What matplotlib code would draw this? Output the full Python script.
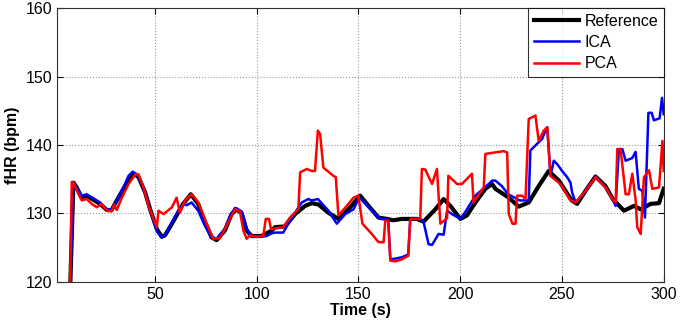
import matplotlib
matplotlib.use("Agg")
import matplotlib.pyplot as plt

plt.rcParams['font.family'] = ['Liberation Sans', 'DejaVu Sans']

# Reference fHR
ref_t = [8.3, 10.0, 11.6, 14.1, 16.5, 19.8, 23.1, 26.4, 28.8, 31.3, 34.6, 37.8, 39.8, 42.0,
         45.2, 47.7, 51.0, 53.4, 55.0, 58.4, 63.9, 67.7, 71.3, 74.6, 77.9, 80.4, 84.4, 87.7,
         90.2, 92.7, 95.1, 97.6, 102.5, 107.4, 109.1, 114.0, 118.9, 123.8, 127.1, 130.4,
         135.3, 140.2, 145.1, 150.9, 155.0, 159.9, 164.0, 167.3, 171.4, 176.3, 178.8, 182.0,
         187.8, 191.9, 195.2, 200.1, 203.3, 207.5, 212.4, 215.7, 217.3, 221.4, 223.9, 228.8,
         233.7, 238.6, 243.5, 248.5, 254.8, 257.5, 261.6, 266.5, 271.4, 275.0, 280.5, 285.4,
         288.7, 293.6, 297.7, 300.0]
ref_y = [118.0, 134.5, 133.8, 132.3, 132.6, 132.0, 131.4, 130.5, 130.5, 131.9, 133.6, 135.3,
         135.8, 135.3, 133.1, 130.6, 127.7, 126.6, 126.8, 128.5, 131.4, 132.8, 131.4, 128.7,
         126.5, 126.1, 127.5, 129.9, 130.6, 130.0, 127.5, 126.7, 126.7, 127.5, 128.0, 128.1,
         129.9, 131.1, 131.5, 131.3, 130.1, 129.2, 130.6, 132.6, 131.1, 129.4, 129.2, 129.0,
         129.2, 129.2, 129.2, 128.8, 130.6, 132.1, 131.1, 129.2, 129.7, 131.6, 133.6, 134.3,
         133.6, 132.8, 132.3, 131.0, 131.6, 134.0, 136.2, 134.8, 131.9, 131.4, 133.3, 135.4,
         134.0, 132.1, 130.4, 131.1, 130.6, 131.4, 131.5, 133.6]

# ICA estimate
ica_t = [8.3, 10.0, 11.6, 14.1, 16.5, 19.8, 23.1, 26.4, 28.8, 31.3, 34.6, 37.1, 39.2, 42.0,
         45.2, 47.7, 51.0, 53.4, 55.0, 58.4, 62.3, 64.8, 65.6, 68.1, 71.3, 74.6, 77.9, 80.4,
         84.4, 87.7, 89.4, 92.7, 95.1, 97.6, 102.5, 105.0, 107.4, 109.1, 113.1, 117.3, 122.2,
         125.4, 127.1, 128.7, 130.1, 135.3, 139.4, 143.5, 147.6, 150.0, 150.9, 156.6, 160.7,
         163.2, 164.7, 165.7, 168.1, 171.4, 174.5, 175.5, 176.3, 180.4, 182.0, 184.5, 186.2,
         189.4, 191.9, 193.6, 196.0, 200.1, 202.5, 207.5, 214.0, 215.7, 217.3, 220.5, 223.6,
         226.8, 229.2, 233.7, 234.5, 238.6, 240.3, 241.9, 242.8, 244.4, 246.0, 247.7, 250.1,
         252.6, 254.2, 255.0, 256.7, 261.6, 266.5, 271.4, 275.0, 276.4, 277.2, 278.0, 279.7,
         281.3, 284.6, 286.2, 287.8, 289.5, 290.8, 292.5, 294.1, 295.2, 298.0, 299.2, 300.0]
ica_y = [118.0, 134.5, 133.8, 132.6, 132.8, 132.2, 131.6, 130.6, 130.6, 131.9, 133.8, 135.5,
         136.1, 135.4, 133.1, 130.5, 127.4, 126.5, 126.8, 128.7, 130.8, 131.4, 131.2, 131.6,
         130.4, 128.2, 126.5, 126.3, 127.8, 130.0, 130.8, 130.3, 127.8, 126.6, 126.6, 126.7,
         127.1, 127.2, 127.2, 129.4, 131.6, 132.1, 131.9, 132.0, 132.1, 130.4, 128.5, 129.9,
         130.6, 132.1, 132.2, 130.4, 129.2, 129.2, 129.0, 123.3, 123.4, 123.6, 124.0, 129.2,
         129.2, 129.2, 128.8, 125.5, 125.4, 127.0, 126.9, 130.4, 129.9, 129.2, 130.2, 132.6,
         134.3, 134.8, 134.8, 134.0, 132.8, 132.3, 131.9, 131.9, 139.2, 140.4, 140.9, 142.1,
         142.6, 135.5, 137.7, 137.2, 136.2, 135.3, 134.5, 133.1, 131.6, 133.3, 135.4, 133.8,
         132.0, 131.1, 135.3, 139.4, 139.4, 137.7, 138.1, 139.0, 133.6, 133.3, 129.4, 144.7,
         144.7, 143.6, 143.9, 146.9, 144.5]

# PCA estimate
pca_t = [8.3, 9.2, 10.0, 12.5, 14.1, 16.5, 19.0, 21.5, 23.9, 26.4, 28.8, 30.0, 31.3, 33.8,
         37.1, 39.5, 40.8, 42.0, 44.4, 46.9, 49.4, 51.0, 51.8, 54.3, 58.4, 60.7, 62.3, 64.8,
         68.1, 71.3, 75.4, 78.7, 82.0, 86.1, 89.4, 91.8, 93.5, 95.1, 96.8, 100.0, 103.3,
         104.5, 106.1, 107.1, 113.1, 116.4, 120.5, 121.4, 124.7, 127.1, 128.7, 130.1, 131.2,
         132.8, 137.7, 138.9, 140.2, 144.3, 147.6, 150.0, 152.0, 156.6, 159.9, 162.4, 163.2,
         164.7, 165.7, 168.1, 171.4, 174.5, 175.5, 180.4, 181.2, 182.9, 186.2, 188.6, 190.3,
         191.9, 193.6, 194.2, 198.5, 200.9, 205.8, 206.6, 211.6, 212.4, 221.4, 223.1, 223.9,
         225.7, 227.2, 228.0, 230.4, 232.1, 233.7, 237.0, 238.6, 241.1, 242.8, 244.4, 245.5,
         249.3, 254.2, 256.7, 261.6, 266.5, 271.4, 275.0, 276.4, 277.2, 278.8, 281.3, 282.9,
         284.6, 286.2, 287.0, 288.7, 290.3, 292.8, 294.4, 297.7, 299.4, 300.0]
pca_y = [118.0, 134.6, 134.5, 132.8, 131.9, 132.1, 131.4, 130.9, 131.4, 130.4, 130.3, 131.3,
         130.5, 132.3, 134.3, 135.3, 135.8, 135.7, 133.8, 131.1, 129.2, 128.0, 130.4, 129.9,
         130.9, 132.3, 130.1, 131.9, 132.8, 131.6, 128.6, 126.3, 126.4, 128.7, 130.6, 130.3,
         127.5, 126.3, 126.8, 126.6, 126.7, 129.2, 129.2, 127.7, 128.0, 129.4, 130.6, 136.0,
         136.5, 136.2, 136.2, 142.1, 141.6, 136.7, 135.5, 135.3, 129.7, 131.1, 132.3, 132.6,
         128.5, 127.0, 125.8, 125.8, 128.9, 128.9, 123.1, 123.0, 123.3, 123.8, 129.2, 129.2,
         136.5, 136.4, 134.3, 136.5, 128.5, 128.9, 129.3, 135.5, 134.3, 134.3, 135.8, 131.6,
         133.8, 138.7, 139.1, 138.9, 129.9, 128.5, 128.5, 132.6, 132.6, 132.1, 143.8, 144.3,
         140.6, 142.1, 142.6, 135.5, 135.2, 134.3, 131.9, 131.6, 133.3, 135.3, 133.8, 132.0,
         131.6, 139.4, 139.4, 132.8, 132.8, 135.8, 132.0, 128.0, 127.0, 135.3, 136.3, 133.6,
         133.8, 140.6, 136.2]

fig = plt.figure(figsize=(6.8, 3.24), dpi=100)
ax = fig.add_axes([0.084, 0.130, 0.892, 0.845])

ax.plot(ref_t, ref_y, color='black', lw=3.0, label='Reference')
ax.plot(ica_t, ica_y, color='#0000ff', lw=1.8, label='ICA')
ax.plot(pca_t, pca_y, color='#ff0000', lw=1.8, label='PCA')

ax.set_xlim(2, 300)
ax.set_ylim(120, 160)
ax.set_xticks([50, 100, 150, 200, 250, 300])
ax.set_yticks([120, 130, 140, 150, 160])
ax.tick_params(direction='in', labelsize=11.5, length=4, top=True, right=True)
ax.grid(True, linestyle=':', color='#999999', lw=0.8)
for s in ax.spines.values():
    s.set_linewidth(0.8)
    s.set_color('#333333')

ax.set_xlabel('Time (s)', fontsize=11.5, fontweight='bold', labelpad=1)
ax.set_ylabel('fHR (bpm)', fontsize=11.5, fontweight='bold', labelpad=4)

leg = ax.legend(loc='upper right', fontsize=11.5, frameon=True, fancybox=False,
                borderaxespad=0.0, handlelength=2.8, handletextpad=0.35,
                labelspacing=0.4, borderpad=0.35)
leg.get_frame().set_edgecolor('black')
leg.get_frame().set_linewidth(0.8)

fig.savefig('out.png', dpi=100)
